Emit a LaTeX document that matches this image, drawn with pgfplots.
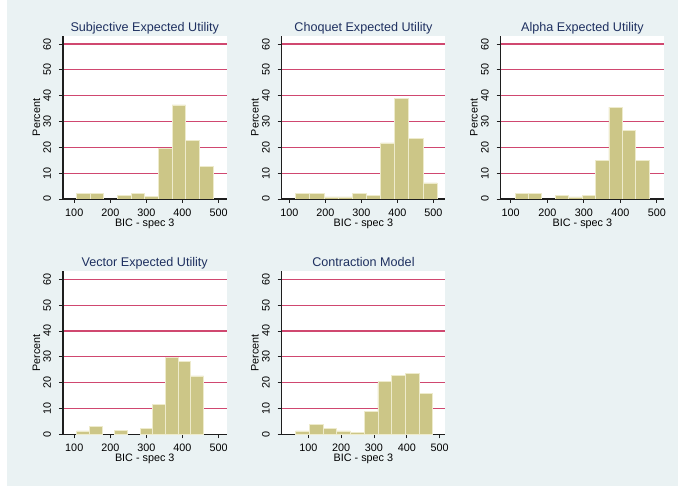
\documentclass[border=0pt]{standalone}
\usepackage{fontspec}
\setmainfont{Liberation Sans}
\usepackage{pgfplots}
\pgfplotsset{compat=1.18}

\definecolor{bgpanel}{RGB}{234,242,243}
\definecolor{titlenavy}{RGB}{30,48,96}
\definecolor{gridred}{RGB}{208,72,112}
\definecolor{barfill}{RGB}{204,198,135}
\definecolor{baredge}{RGB}{238,235,204}
\definecolor{axisgray}{RGB}{30,30,30}

\pgfplotsset{
  histpanel/.style={
    scale only axis,
    width=163.5pt, height=163pt,
    anchor=south west,
    axis x line*=bottom,
    axis y line*=left,
    axis line style={draw=axisgray, line width=1.4pt},
    y axis line style={draw=axisgray, line width=1.4pt},
    axis background/.style={fill=white},
    ymin=0, ymax=63.1,
    ytick={10,20,...,60},
    extra y ticks={0},
    extra y tick style={grid=none},
    xtick={100,200,...,500},
    ymajorgrids,
    major grid style={gridred, line width=1.1pt},
    tick align=outside,
    major tick length=4pt,
    tick style={axisgray, line width=0.9pt},
    /pgf/number format/assume math mode=true,
    ticklabel style={font=\fontsize{10.8}{12}\selectfont, black},
    yticklabel style={rotate=90, anchor=south},
    yticklabel shift=4.5pt,
    xticklabel shift=2.4pt,
    title style={font=\fontsize{12.6}{14}\selectfont, color=titlenavy,
                 at={(0.5,1)}, anchor=base, yshift=-1.5pt},
    label style={font=\fontsize{10.8}{12}\selectfont, black},
    xlabel={BIC - spec 3},
    ylabel={Percent},
    xlabel style={at={(axis description cs:0.5,-0.152)}, anchor=center},
    ylabel style={at={(axis description cs:-0.163,0.5)}, anchor=center},
  },
  histbars/.style={ybar, fill=barfill, draw=baredge, line width=0.8pt},
}

\begin{document}
\begin{tikzpicture}[x=1pt, y=1pt]
  % page background
  \fill[white] (0,0) rectangle (678,486);
  \fill[bgpanel] (7,0) rectangle (678,486);

  % Subjective Expected Utility
  \begin{axis}[histpanel, at={(63pt,287pt)},
      xmin=68.8, xmax=522.1,
      title={Subjective Expected Utility}]
    \addplot[histbars, bar width=37.8] coordinates {
      (125.4,2.2) (163.2,2.2) (238.8,1.5) (276.6,2.2) (314.4,0.9)
      (352.2,19.4) (390.0,36.4) (427.8,22.6) (465.6,12.5)};
  \end{axis}

  % Choquet Expected Utility
  \begin{axis}[histpanel, at={(281.7pt,287pt)},
      xmin=78.9, xmax=532.5,
      title={Choquet Expected Utility}]
    \addplot[histbars, bar width=39.25] coordinates {
      (137.2,2.2) (176.5,2.2) (215.7,0.8) (255.0,0.8) (294.2,2.2)
      (333.5,1.5) (372.7,21.7) (412.0,38.9) (451.2,23.3) (490.5,6.2)};
  \end{axis}

  % Alpha Expected Utility
  \begin{axis}[histpanel, at={(500.7pt,287pt)},
      xmin=72.6, xmax=520.0,
      title={Alpha Expected Utility}]
    \addplot[histbars, bar width=36.7] coordinates {
      (130.2,2.2) (166.9,2.2) (240.3,1.5) (277.0,0.8) (313.7,1.5)
      (350.4,14.8) (387.1,35.6) (423.8,26.4) (460.5,14.8)};
  \end{axis}

  % Vector Expected Utility
  \begin{axis}[histpanel, at={(63pt,51.7pt)},
      xmin=68.8, xmax=522.1,
      title={Vector Expected Utility}]
    \addplot[histbars, bar width=35.2] coordinates {
      (124.1,1.3) (159.3,3.0) (229.7,1.4) (300.1,2.2)
      (335.3,11.6) (370.5,29.6) (405.7,28.1) (440.9,22.6)};
  \end{axis}

  % Contraction Model
  \begin{axis}[histpanel, at={(281.7pt,51.7pt)},
      xmin=19.0, xmax=517.0,
      title={Contraction Model}]
    \addplot[histbars, bar width=41.8] coordinates {
      (82.2,1.3) (124.0,3.7) (165.8,2.2) (207.6,1.3) (249.4,0.8)
      (291.2,8.8) (333.0,20.3) (374.8,22.7) (416.6,23.4) (458.4,15.7)};
  \end{axis}
\end{tikzpicture}
\end{document}
